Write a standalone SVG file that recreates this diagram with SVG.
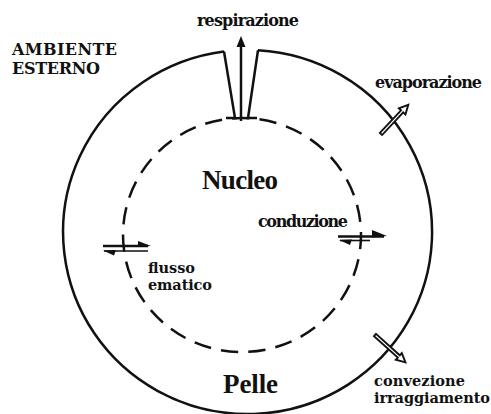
<svg xmlns="http://www.w3.org/2000/svg" width="491" height="414" viewBox="0 0 491 414">
<style>
text{font-family:"DejaVu Serif","Liberation Serif",serif;font-weight:bold;fill:#111}
.s{font-size:14.5px}
.a{font-size:16px}
.b{font-family:"Liberation Serif","Times New Roman",serif;font-size:27px}
.ln{fill:none;stroke:#111;stroke-width:2.5}
.dash{fill:none;stroke:#111;stroke-width:2.5;stroke-dasharray:0.63 0.37;stroke-dashoffset:0.11}
.hol{fill:#fff;stroke:#111;stroke-width:1.9;stroke-linejoin:miter}
.fl{fill:#111;stroke:none}
</style>
<rect width="491" height="414" fill="#fff"/>
<g id="pelle">
<path class="ln" d="M258 50.3 A184.5 182 0 1 1 224 51.5"/>
<path class="ln" d="M224 51.5 L235 118 L226 118"/>
<path class="ln" d="M258 50.3 L248 118 L257 118"/>
<text class="b" x="223" y="393" textLength="55">Pelle</text>
</g>
<g id="nucleo">
<ellipse class="dash" cx="242" cy="235" rx="119" ry="117" pathLength="27"/>
<text class="b" x="202" y="189" textLength="76">Nucleo</text>
</g>
<g id="ambiente">
<text class="a" x="12" y="55" textLength="105">AMBIENTE</text>
<text class="a" x="12" y="74" textLength="88">ESTERNO</text>
</g>
<g id="labels">
<text class="a" x="197" y="26" textLength="102">respirazione</text>
<text class="a" x="375" y="88" textLength="107">evaporazione</text>
<text class="a" x="258" y="227" textLength="90">conduzione</text>
<text class="s" x="148" y="273" textLength="47">flusso</text>
<text class="s" x="148" y="290" textLength="64">ematico</text>
<text class="s" x="374" y="386" textLength="91">convezione</text>
<text class="s" x="374" y="403" textLength="116">irraggiamento</text>
</g>
<g id="connectors">
<line x1="241" y1="121" x2="241" y2="46" stroke="#111" stroke-width="2.5"/>
<polygon class="fl" points="241,36 236.5,47 245.5,47"/>
<g transform="translate(381,134) rotate(-47)">
<polygon class="hol" points="0,-1.5 31,-1.5 31,-4.5 40,0 31,4.5 31,1.5 0,1.5"/>
</g>
<g transform="translate(375,335) rotate(42)">
<polygon class="hol" points="0,-1.5 32,-1.5 32,-4.5 41,0 32,4.5 32,1.5 0,1.5"/>
</g>
<g id="cond">
<line x1="338" y1="236.5" x2="384" y2="236.5" stroke="#111" stroke-width="2.6"/>
<polygon class="fl" points="387,236 372,230 372,237.5"/>
<line x1="340" y1="240.5" x2="370" y2="240.5" stroke="#111" stroke-width="1.6"/>
<polygon class="fl" points="339,240 352,239.5 350,245"/>
</g>
<g id="flusso">
<line x1="103" y1="246" x2="148" y2="246" stroke="#111" stroke-width="2.4"/>
<polygon class="fl" points="151,246 138,241 138,247"/>
<line x1="104" y1="251" x2="148" y2="251" stroke="#111" stroke-width="1.6"/>
<polygon class="fl" points="103,250.5 116,250 114,255.5"/>
</g>
</g>
</svg>
